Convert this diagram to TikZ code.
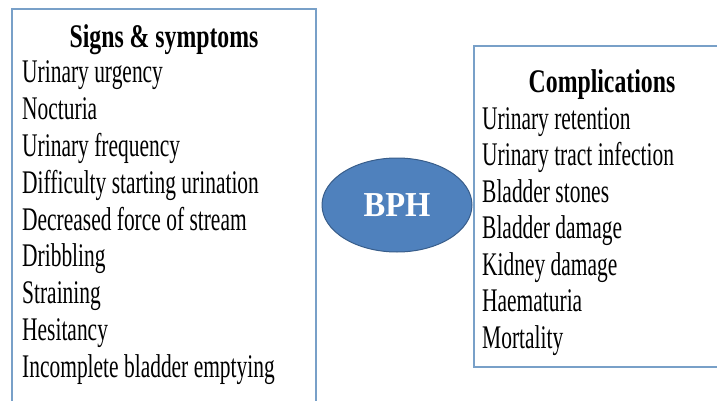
\documentclass[tikz,border=0pt]{standalone}
\usepackage{fontspec}
\setmainfont{Liberation Serif}
\newfontfamily\listfont[FakeStretch=0.65]{Liberation Serif}
\newfontfamily\headfont[FakeStretch=0.72]{Liberation Serif}
\newfontfamily\bphfont[FakeStretch=0.93]{Liberation Serif}
\usetikzlibrary{shapes.geometric}
\definecolor{panelline}{RGB}{120,160,200}
\definecolor{bphfill}{RGB}{79,129,189}
\definecolor{bphline}{RGB}{56,93,138}
\tikzset{
  panel/.style={draw=panelline, line width=1.5pt, fill=white},
  item/.style={anchor=base west, inner sep=0pt, font=\listfont\fontsize{33}{36}\selectfont},
  head/.style={anchor=base, inner sep=0pt, font=\headfont\bfseries\fontsize{33}{36}\selectfont}
}
\begin{document}
\begin{tikzpicture}[x=1pt,y=-1pt]
  \useasboundingbox (0,0) rectangle (717,401);
  \clip (0,0) rectangle (717,401);
  % Left panel
  \draw[panel] (12,9) rectangle (316,430);
  \node[head] (signs) at (164,48) {Signs \& symptoms};
  \foreach \t [count=\i] in {Urinary urgency, Nocturia, Urinary frequency,
      Difficulty starting urination, Decreased force of stream, Dribbling,
      Straining, Hesitancy, Incomplete bladder emptying}
    \node[item] (s\i) at (22,{83+(\i-1)*36.75}) {\t};
  % Right panel
  \draw[panel] (474,46) rectangle (740,367);
  \node[head] (compl) at (602,93) {Complications};
  \foreach \t [count=\i] in {Urinary retention, Urinary tract infection,
      Bladder stones, Bladder damage, Kidney damage, Haematuria, Mortality}
    \node[item] (c\i) at (482,{129+(\i-1)*36.5}) {\t};
  % Centre ellipse
  \node[ellipse, fill=bphfill, draw=bphline, line width=1pt,
    minimum width=150, minimum height=94, inner sep=0pt,
    text=white, font=\bphfont\bfseries\fontsize{35}{40}\selectfont] (bph) at (397,205) {BPH};
\end{tikzpicture}
\end{document}
